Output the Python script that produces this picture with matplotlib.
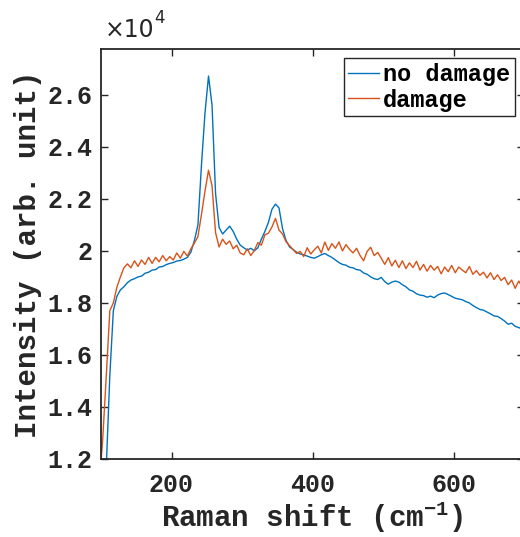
import numpy as np
import matplotlib
matplotlib.use('Agg')
import matplotlib.pyplot as plt

plt.rcParams['mathtext.fontset'] = 'custom'
plt.rcParams['mathtext.rm'] = 'Liberation Mono:bold'
plt.rcParams['mathtext.it'] = 'Liberation Mono:bold'
plt.rcParams['mathtext.bf'] = 'Liberation Mono:bold'

# Raman shift grid (cm^-1), step 5
shift = np.arange(97.5, 705, 5)

# intensities, in units of 1e4
no_damage = [
    0.90, 1.00, 1.17, 1.52, 1.77, 1.825, 1.850, 1.862, 1.878, 1.888,
    1.893, 1.900, 1.903, 1.914, 1.918, 1.926, 1.928, 1.938, 1.940, 1.947,
    1.952, 1.955, 1.961, 1.963, 1.968, 1.975, 1.995, 2.040, 2.100, 2.330,
    2.530, 2.672, 2.560, 2.220, 2.090, 2.065, 2.080, 2.095, 2.075, 2.045,
    2.022, 2.012, 2.003, 2.010, 2.000, 2.012, 2.045, 2.075, 2.110, 2.160,
    2.180, 2.165, 2.085, 2.040, 2.015, 2.005, 1.995, 1.988, 1.985, 1.980,
    1.975, 1.972, 1.978, 1.985, 1.990, 1.982, 1.975, 1.965, 1.955, 1.948,
    1.945, 1.937, 1.935, 1.928, 1.926, 1.915, 1.910, 1.900, 1.893, 1.890,
    1.898, 1.882, 1.872, 1.880, 1.884, 1.880, 1.870, 1.862, 1.850, 1.845,
    1.835, 1.830, 1.828, 1.822, 1.826, 1.820, 1.830, 1.836, 1.838, 1.832,
    1.825, 1.818, 1.815, 1.812, 1.805, 1.800, 1.790, 1.782, 1.775, 1.772,
    1.765, 1.758, 1.750, 1.748, 1.740, 1.730, 1.718, 1.722, 1.710, 1.705,
    1.700, 1.695]

damage = [
    1.10, 1.28, 1.52, 1.77, 1.80, 1.86, 1.90, 1.935, 1.950, 1.935,
    1.962, 1.940, 1.965, 1.948, 1.975, 1.952, 1.975, 1.958, 1.982, 1.962,
    1.978, 1.965, 1.992, 1.972, 1.998, 1.980, 2.008, 2.030, 2.055, 2.140,
    2.230, 2.310, 2.250, 2.070, 2.015, 2.045, 2.025, 2.038, 2.008, 2.022,
    1.992, 1.985, 2.008, 1.982, 2.002, 2.032, 2.022, 2.062, 2.068, 2.092,
    2.125, 2.080, 2.065, 2.035, 2.020, 2.005, 1.990, 1.998, 1.978, 2.012,
    1.988, 2.004, 2.018, 1.992, 2.034, 2.002, 2.028, 2.010, 2.034, 2.000,
    2.024, 2.006, 1.992, 2.010, 1.982, 1.962, 1.998, 2.014, 1.982, 1.994,
    1.972, 1.948, 1.974, 1.942, 1.964, 1.936, 1.962, 1.932, 1.954, 1.936,
    1.960, 1.926, 1.948, 1.922, 1.944, 1.926, 1.940, 1.912, 1.938, 1.920,
    1.944, 1.916, 1.938, 1.926, 1.916, 1.940, 1.910, 1.924, 1.906, 1.918,
    1.896, 1.916, 1.890, 1.908, 1.886, 1.898, 1.870, 1.888, 1.856, 1.884,
    1.862, 1.872]

series_labels = ['no damage', 'damage']
x_ticks = [200, 400, 600]
y_ticks = [1.2, 1.4, 1.6, 1.8, 2.0, 2.2, 2.4, 2.6]
y_tick_labels = ['1.2', '1.4', '1.6', '1.8', '2', '2.2', '2.4', '2.6']

scale = 1e4
no_damage = np.array(no_damage) * scale
damage = np.array(damage) * scale

axcol = '#262626'
mono = {'family': 'Liberation Mono', 'weight': 'bold'}

fig = plt.figure(figsize=(5.2, 5.37), dpi=100)
ax = fig.add_axes([101 / 520, 78 / 537, 423 / 520, 410 / 537])

ax.plot(shift, no_damage, color='#0072BD', lw=1.0, label=series_labels[0])
ax.plot(shift, damage, color='#D95319', lw=1.0, label=series_labels[1])

ax.set_xlim(100, 700)
ax.set_ylim(1.2 * scale, 2.776 * scale)
ax.set_xticks(x_ticks)
ax.set_xticklabels([str(t) for t in x_ticks], fontdict=mono, fontsize=18)
ax.set_yticks([t * scale for t in y_ticks])
ax.set_yticklabels(y_tick_labels, fontdict=mono, fontsize=18)

ax.tick_params(direction='in', length=5, width=1.0, colors=axcol,
               top=True, right=True)
ax.tick_params(axis='x', pad=10)
ax.tick_params(axis='y', pad=6)
for sp in ax.spines.values():
    sp.set_color(axcol)
    sp.set_linewidth(1.3)

ax.set_xlabel(r'Raman shift (cm$^{-1}$)', fontdict=mono, fontsize=21,
              color=axcol, labelpad=2)
ax.set_ylabel('Intensity (arb. unit)', fontdict=mono, fontsize=21,
              color=axcol, labelpad=4)

# exponent label above the y axis
t1 = ax.text(0.008, 1.018, '\u00d710', transform=ax.transAxes,
             family='DejaVu Sans', fontsize=17, color=axcol,
             ha='left', va='bottom')
ax.annotate('4', xy=(1.0, 0.62), xycoords=t1, family='DejaVu Sans',
            fontsize=12, color=axcol, ha='left', va='bottom')

leg = ax.legend(loc='upper right', prop={'family': 'Liberation Mono',
                                        'weight': 'bold', 'size': 17},
                fancybox=False, edgecolor=axcol, framealpha=1,
                handlelength=1.3, handletextpad=0.15, labelspacing=0.1,
                borderpad=0.2, borderaxespad=0.4)
leg.get_frame().set_linewidth(1.0)

fig.savefig('out.png', dpi=100)
